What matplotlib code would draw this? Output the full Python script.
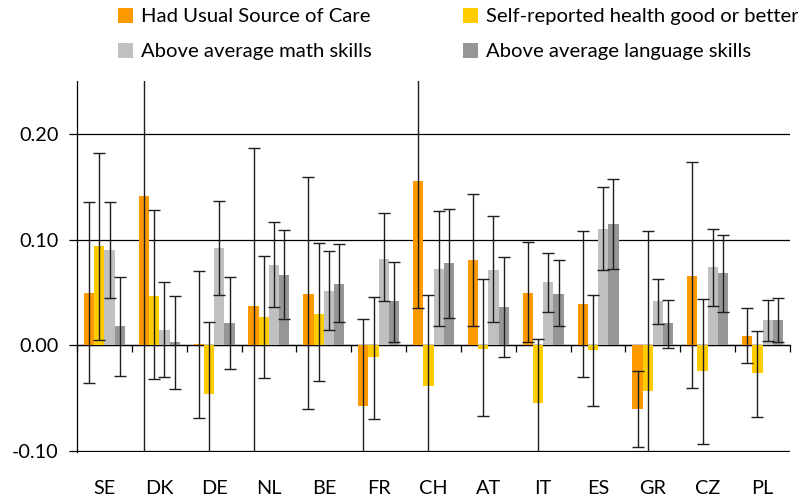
import numpy as np
import matplotlib
matplotlib.use("Agg")
import matplotlib.pyplot as plt
import matplotlib.transforms as mtransforms
from matplotlib.patches import Patch

plt.rcParams["font.family"] = ["Lato", "DejaVu Sans"]

paises = ["SE", "DK", "DE", "NL", "BE", "FR", "CH", "AT", "IT", "ES", "GR", "CZ", "PL"]
serii = ["Had Usual Source of Care", "Self-reported health good or better",
         "Above average math skills", "Above average language skills"]
culori = ["#FF9900", "#FFCC00", "#C0C0C0", "#969696"]

# estimari punctuale
ingrijire = [0.050, 0.141, 0.001, 0.037, 0.049, -0.057, 0.155, 0.081, 0.050, 0.039, -0.060, 0.066, 0.009]
sanatate = [0.094, 0.047, -0.046, 0.027, 0.030, -0.011, -0.038, -0.003, -0.054, -0.004, -0.043, -0.024, -0.026]
matematica = [0.090, 0.015, 0.092, 0.076, 0.051, 0.082, 0.072, 0.071, 0.060, 0.110, 0.042, 0.074, 0.024]
limba = [0.018, 0.003, 0.021, 0.067, 0.058, 0.042, 0.078, 0.036, 0.049, 0.115, 0.021, 0.068, 0.024]

# intervale de incredere (limita inferioara / superioara)
ingrijire_lo = [-0.036, -0.119, -0.069, -0.113, -0.060, -0.139, 0.035, 0.018, 0.003, -0.030, -0.096, -0.040, -0.017]
ingrijire_hi = [0.136, 0.401, 0.070, 0.187, 0.159, 0.025, 0.275, 0.143, 0.098, 0.108, -0.024, 0.173, 0.035]
sanatate_lo = [0.005, -0.032, -0.114, -0.031, -0.034, -0.070, -0.124, -0.067, -0.114, -0.057, -0.194, -0.093, -0.068]
sanatate_hi = [0.182, 0.128, 0.022, 0.085, 0.097, 0.046, 0.048, 0.063, 0.006, 0.048, 0.108, 0.044, 0.014]
matematica_lo = [0.045, -0.030, 0.048, 0.036, 0.015, 0.042, 0.018, 0.022, 0.032, 0.071, 0.020, 0.037, 0.004]
matematica_hi = [0.136, 0.060, 0.137, 0.117, 0.089, 0.125, 0.127, 0.122, 0.087, 0.150, 0.063, 0.110, 0.043]
limba_lo = [-0.029, -0.041, -0.022, 0.025, 0.022, 0.003, 0.026, -0.011, 0.018, 0.072, -0.002, 0.032, 0.003]
limba_hi = [0.065, 0.047, 0.065, 0.109, 0.096, 0.079, 0.129, 0.084, 0.081, 0.157, 0.043, 0.104, 0.045]

valori = [ingrijire, sanatate, matematica, limba]
lo = [ingrijire_lo, sanatate_lo, matematica_lo, limba_lo]
hi = [ingrijire_hi, sanatate_hi, matematica_hi, limba_hi]

fig = plt.figure(figsize=(7.98, 5.0), dpi=100)
ax = fig.add_axes([0.0965, 0.0966, 0.8935, 0.7414])

x = np.arange(len(paises))
w = 0.187
for i in range(4):
    v = np.array(valori[i])
    poz = x + (i - 1.5) * w
    ax.bar(poz, v, width=w, color=culori[i], zorder=2)
    err = np.vstack([v - np.array(lo[i]), np.array(hi[i]) - v])
    ax.errorbar(poz, v, yerr=err, fmt="none", ecolor="#1e1e1e", elinewidth=1.0,
                capsize=4.5, capthick=1.0, zorder=3)

ax.set_xlim(-0.5, len(paises) - 0.5)
ax.set_ylim(-0.1005, 0.25)
ax.set_yticks([-0.10, 0.0, 0.10, 0.20])
ax.set_yticklabels([f"{t:.2f}" for t in [-0.10, 0.0, 0.10, 0.20]])
ax.yaxis.grid(True, color="black", linewidth=0.9, zorder=0)
ax.set_axisbelow(True)

for s in ["top", "right"]:
    ax.spines[s].set_visible(False)
ax.spines["left"].set_linewidth(0.9)
ax.spines["bottom"].set_position(("data", 0))
ax.spines["bottom"].set_linewidth(0.9)
ax.spines["bottom"].set_zorder(1)

ax.set_xticks([])
ax.set_xticks(np.arange(-0.5, len(paises)), minor=True)
ax.tick_params(axis="x", which="minor", direction="out", length=5, width=0.9, color="black")
ax.tick_params(axis="y", direction="out", length=5.5, width=0.9, pad=8, labelsize=14.3)

trans = mtransforms.blended_transform_factory(ax.transData, ax.transAxes)
for xi, p in zip(x, paises):
    ax.text(xi, -0.098, p, transform=trans, ha="center", va="center", fontsize=14.3)

# legenda: doua coloane, fiecare ca legenda separata
for cols, x0 in [([0, 2], 118), ([1, 3], 463)]:
    fig.legend([Patch(facecolor=culori[k], edgecolor="none") for k in cols],
               [serii[k] for k in cols], loc="upper left",
               bbox_to_anchor=(x0 / 798, 1 - 8 / 500), frameon=False, fontsize=14.6,
               handlelength=0.75, handleheight=0.75, handletextpad=0.4,
               labelspacing=0.85, borderpad=0, borderaxespad=0)

fig.savefig("out.png", dpi=100)
